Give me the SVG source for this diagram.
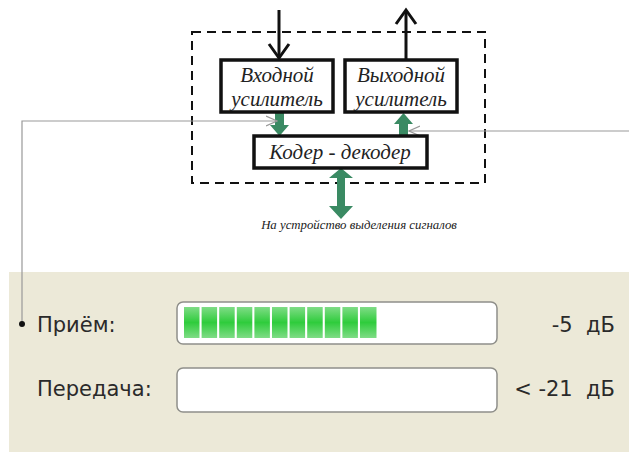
<svg xmlns="http://www.w3.org/2000/svg" width="629" height="452" viewBox="0 0 629 452">
  <style>
    .blk { fill: #fff; stroke: #111; stroke-width: 3.5; }
    .lbl { font-family: "Liberation Serif", serif; font-style: italic; font-size: 21px; fill: #222; text-anchor: middle; }
    .ui { font-family: "DejaVu Sans", "Liberation Sans", sans-serif; font-size: 21px; fill: #2a2a2a; }
    .grn { fill: #3a8a63; }
    .thin { fill: none; stroke: #999; stroke-width: 1.2; }
    .seg { fill: url(#segGrad); }
  </style>
  <defs>
    <linearGradient id="segGrad" x1="0" y1="0" x2="0" y2="1">
      <stop offset="0" stop-color="#7fdc86"/>
      <stop offset="0.5" stop-color="#2fcc3c"/>
      <stop offset="1" stop-color="#7fdc86"/>
    </linearGradient>
    <marker id="chev" viewBox="0 0 12 12" refX="11" refY="6" markerWidth="12" markerHeight="12" markerUnits="userSpaceOnUse" orient="auto">
      <path d="M0,1 L11,6 L0,11" fill="none" stroke="#999" stroke-width="1.2"/>
    </marker>
  </defs>

  <!-- lower panel -->
  <rect x="9" y="272" width="620" height="180" fill="#ece9d8"/>

  <!-- dashed enclosure -->
  <rect x="192" y="32" width="293" height="151" fill="none" stroke="#111" stroke-width="2" stroke-dasharray="9,6"/>

  <g id="connectors">
    <!-- input and output signal arrows -->
    <path d="M279,10 V58" stroke="#111" stroke-width="3" fill="none"/>
    <path d="M269,44 L279,58 L289,44" stroke="#111" stroke-width="3" fill="none"/>
    <path d="M406,60 V12" stroke="#111" stroke-width="3" fill="none"/>
    <path d="M396,24 L406,10 L416,24" stroke="#111" stroke-width="3" fill="none"/>
    <!-- green transfer arrows -->
    <path class="grn" d="M275,113 H284 V125 H289 L279.5,136 L270,125 H275 Z"/>
    <path class="grn" d="M399,136 H408 V124 H413 L403.5,113 L394,124 H399 Z"/>
    <path class="grn" d="M337,178 V206 H329 L341,219 L353,206 H345 V178 H353 L341,168 L329,178 Z"/>
    <!-- level meter leads -->
    <polyline class="thin" points="22,324 22,121 277,121" marker-end="url(#chev)"/>
    <circle cx="22" cy="324" r="3" fill="#111"/>
    <polyline class="thin" points="629,131 409,131" marker-end="url(#chev)"/>
  </g>

  <g id="input-amp">
    <rect class="blk" x="221" y="60" width="112" height="52"/>
    <text class="lbl" x="277" y="82">Входной</text>
    <text class="lbl" x="277" y="106">усилитель</text>
  </g>
  <g id="output-amp">
    <rect class="blk" x="345" y="60" width="112" height="52"/>
    <text class="lbl" x="401" y="82">Выходной</text>
    <text class="lbl" x="401" y="106">усилитель</text>
  </g>
  <g id="codec">
    <rect class="blk" x="254" y="136" width="173" height="32"/>
    <text class="lbl" x="340" y="159">Кодер - декодер</text>
  </g>
  <g id="caption">
    <text x="359" y="229" font-family="Liberation Serif, serif" font-style="italic" font-size="12.8" fill="#222" text-anchor="middle">На устройство выделения сигналов</text>
  </g>

  <g id="rx-meter">
    <text class="ui" x="37" y="332">Приём:</text>
    <rect x="177" y="302" width="320" height="42" rx="6" fill="#fff" stroke="#8f8f8a" stroke-width="1.5"/>
    <g>
      <rect class="seg" x="184" y="307" width="15.5" height="31"/>
      <rect class="seg" x="201.6" y="307" width="15.5" height="31"/>
      <rect class="seg" x="219.2" y="307" width="15.5" height="31"/>
      <rect class="seg" x="236.8" y="307" width="15.5" height="31"/>
      <rect class="seg" x="254.4" y="307" width="15.5" height="31"/>
      <rect class="seg" x="272" y="307" width="15.5" height="31"/>
      <rect class="seg" x="289.6" y="307" width="15.5" height="31"/>
      <rect class="seg" x="307.2" y="307" width="15.5" height="31"/>
      <rect class="seg" x="324.8" y="307" width="15.5" height="31"/>
      <rect class="seg" x="342.4" y="307" width="15.5" height="31"/>
      <rect class="seg" x="360" y="307" width="16.5" height="31"/>
    </g>
    <text class="ui" x="615" y="332" text-anchor="end" xml:space="preserve">-5  дБ</text>
  </g>
  <g id="tx-meter">
    <text class="ui" x="37" y="396">Передача:</text>
    <rect x="177" y="368" width="320" height="44" rx="6" fill="#fff" stroke="#8f8f8a" stroke-width="1.5"/>
    <text class="ui" x="615" y="396" text-anchor="end" xml:space="preserve">&lt; -21  дБ</text>
  </g>
</svg>
